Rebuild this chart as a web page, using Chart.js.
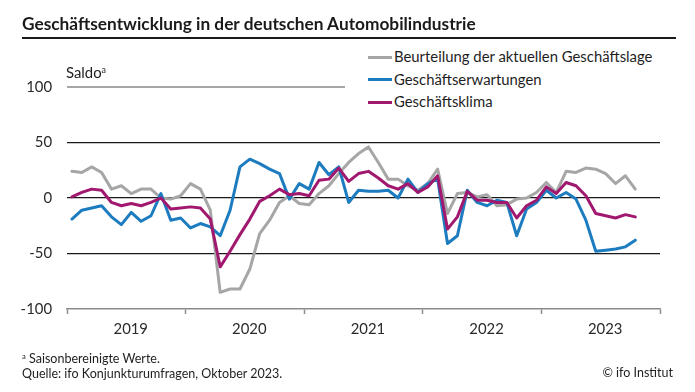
<!DOCTYPE html>
<html>
<head>
<meta charset="utf-8">
<script src="https://cdn.jsdelivr.net/npm/chart.js@4.4.0/dist/chart.umd.min.js"></script>
<style>
html,body{margin:0;padding:0;background:#fff;}
#wrap{position:relative;width:695px;height:392px;overflow:hidden;font-family:Lato,"Liberation Sans",sans-serif;color:#1e1e1e;}
#c{position:absolute;left:0;top:0;}
#title{position:absolute;left:22px;top:13px;line-height:22px;font-weight:bold;white-space:nowrap;color:#1a1a1a;}
#rule{position:absolute;left:22px;top:37px;width:654px;height:2px;background:#1a1a1a;}
#saldo{position:absolute;left:66px;top:63px;line-height:18px;white-space:nowrap;}
#legend{position:absolute;left:345px;top:45px;width:335px;height:67px;background:#fff;}
.li{position:absolute;left:23px;line-height:18px;white-space:nowrap;}
.sw{display:inline-block;width:24px;height:3px;vertical-align:middle;margin-right:2px;position:relative;top:-1px;}
.ft{position:absolute;line-height:16px;white-space:nowrap;}
sup{font-size:60%;line-height:0;vertical-align:0.55em;}
</style>
</head>
<body>
<div id="wrap">
  <canvas id="c" width="695" height="392"></canvas>
  <div id="title">Geschäftsentwicklung in der deutschen Automobilindustrie</div>
  <div id="rule"></div>
  <div id="saldo">Saldo<sup>a</sup></div>
  <div id="legend"></div>
  <div id="f1" class="ft" style="left:22px;top:351px;"><sup>a</sup> Saisonbereinigte Werte.</div>
  <div id="f2" class="ft" style="left:22px;top:366px;">Quelle: ifo Konjunkturumfragen, Oktober 2023.</div>
  <div id="f3" class="ft" style="right:22px;top:365px;">© ifo Institut</div>
</div>
<script>
// ---- data (monthly, Jan 2019 – Oct 2023) ----
const years = ['2019', '2020', '2021', '2022', '2023'];
const monthsShown = 60; // axis spans full years 2019–2023
const seriesNames = ['Beurteilung der aktuellen Geschäftslage', 'Geschäftserwartungen', 'Geschäftsklima'];
const lage = [
  24, 23, 28, 23, 8, 11, 4, 8, 8, 0, -1, 2,
  13, 8, -11, -85, -82, -82, -64, -32, -20, -4, 2, -5,
  -6, 4, 11, 22, 32, 40, 46, 32, 17, 17, 11, 7,
  13, 26, -14, 4, 5, 1, 3, -7, -6, -1, 0, 5,
  14, 5, 24, 23, 27, 26, 22, 13, 20, 8
];
const erwartungen = [
  -19, -11, -9, -7, -17, -24, -13, -21, -16, 4, -20, -18,
  -27, -23, -26, -34, -11, 28, 35, 31, 26, 22, -1, 13,
  8, 32, 21, 28, -4, 7, 6, 6, 7, 0, 17, 5,
  13, 17, -41, -34, 7, -4, -7, -2, -4, -34, -10, -4,
  7, 0, 5, -1, -20, -48, -47, -46, -44, -38
];
const klima = [
  1, 5, 8, 7, -4, -7, -5, -7, -4, 0, -10, -9,
  -8, -9, -19, -62, -48, -33, -19, -3, 2, 8, 3, 4,
  2, 16, 17, 27, 15, 22, 24, 18, 11, 8, 13, 5,
  10, 20, -28, -17, 6, -2, -2, -4, -4, -18, -7, -2,
  10, 4, 14, 11, 2, -14, -16, -18, -15, -17
];
const yTicks = [-100, -50, 0, 50, 100];
const colors = ['#a6a6a6', '#1c7cbf', '#a1186f'];

// ---- font sizing ----
const FAM = 'Lato';
function fitSize(text, weight, target) {
  const cx = document.createElement('canvas').getContext('2d');
  cx.font = weight + ' 100px ' + FAM;
  return 100 * target / cx.measureText(text).width;
}
const titleSize = fitSize('Geschäftsentwicklung in der deutschen Automobilindustrie', 'bold', 455);
const bodySize = fitSize(seriesNames[0], 'normal', 259);
const footSize = fitSize('Quelle: ifo Konjunkturumfragen, Oktober 2023.', 'normal', 261);
document.getElementById('title').style.fontSize = titleSize + 'px';
document.getElementById('saldo').style.fontSize = bodySize + 'px';
['f1', 'f2', 'f3'].forEach(id => document.getElementById(id).style.fontSize = footSize + 'px');

const toPts = arr => arr.map((v, i) => ({ x: i + 0.5, y: v }));

const chart = new Chart(document.getElementById('c'), {
  type: 'line',
  data: {
    datasets: [
      { label: seriesNames[0], data: toPts(lage), borderColor: colors[0], order: 3 },
      { label: seriesNames[1], data: toPts(erwartungen), borderColor: colors[1], order: 2 },
      { label: seriesNames[2], data: toPts(klima), borderColor: colors[2], order: 1 }
    ]
  },
  options: {
    responsive: false,
    devicePixelRatio: 1,
    animation: false,
    elements: {
      line: { borderWidth: 3, tension: 0, borderJoinStyle: 'round', borderCapStyle: 'round' },
      point: { radius: 0, hoverRadius: 0 }
    },
    layout: { padding: { top: 87, right: 35, left: 0, bottom: 0 } },
    plugins: { legend: { display: false }, tooltip: { enabled: false }, title: { display: false } },
    scales: {
      x: {
        type: 'linear',
        min: 0,
        max: monthsShown,
        afterBuildTicks: s => {
          const t = [];
          years.forEach((y, k) => { t.push({ value: 12 * k }); t.push({ value: 12 * k + 6.45 }); });
          t.push({ value: 12 * years.length });
          s.ticks = t;
        },
        afterFit: s => { s.height = 83; },
        ticks: {
          autoSkip: false, maxRotation: 0, padding: 6,
          color: '#2a2a2a',
          font: { family: FAM, size: bodySize },
          callback: v => (v % 12 === 0 ? '' : years[Math.floor(v / 12)])
        },
        grid: {
          drawOnChartArea: false, drawTicks: true, tickLength: 5,
          tickWidth: 1.5,
          tickColor: ctx => (ctx.tick && ctx.tick.value % 12 === 0 ? '#8c8c8c' : 'rgba(0,0,0,0)')
        },
        border: { display: true, color: '#8c8c8c', width: 1.5 }
      },
      y: {
        type: 'linear',
        min: -100,
        max: 100,
        afterBuildTicks: s => { s.ticks = yTicks.map(v => ({ value: v })); },
        afterFit: s => { s.width = 67; },
        ticks: {
          padding: 15,
          color: '#2a2a2a',
          font: { family: FAM, size: bodySize }
        },
        grid: {
          drawTicks: false,
          color: ctx => {
            const v = ctx.tick ? ctx.tick.value : null;
            if (v === 100) return '#a6a6a6';
            if (v === -100) return 'rgba(0,0,0,0)';
            return '#1a1a1a';
          },
          lineWidth: ctx => (ctx.tick && ctx.tick.value === 100 ? 2 : 1.3)
        },
        border: { display: false }
      }
    }
  }
});

// ---- legend built from the chart's datasets ----
const lg = document.getElementById('legend');
chart.data.datasets.forEach((ds, i) => {
  const row = document.createElement('div');
  row.className = 'li';
  row.style.top = (2 + i * 22.5) + 'px';
  row.style.fontSize = bodySize + 'px';
  const sw = document.createElement('span');
  sw.className = 'sw';
  sw.style.background = ds.borderColor;
  row.appendChild(sw);
  row.appendChild(document.createTextNode(ds.label));
  lg.appendChild(row);
});
</script>
</body>
</html>
